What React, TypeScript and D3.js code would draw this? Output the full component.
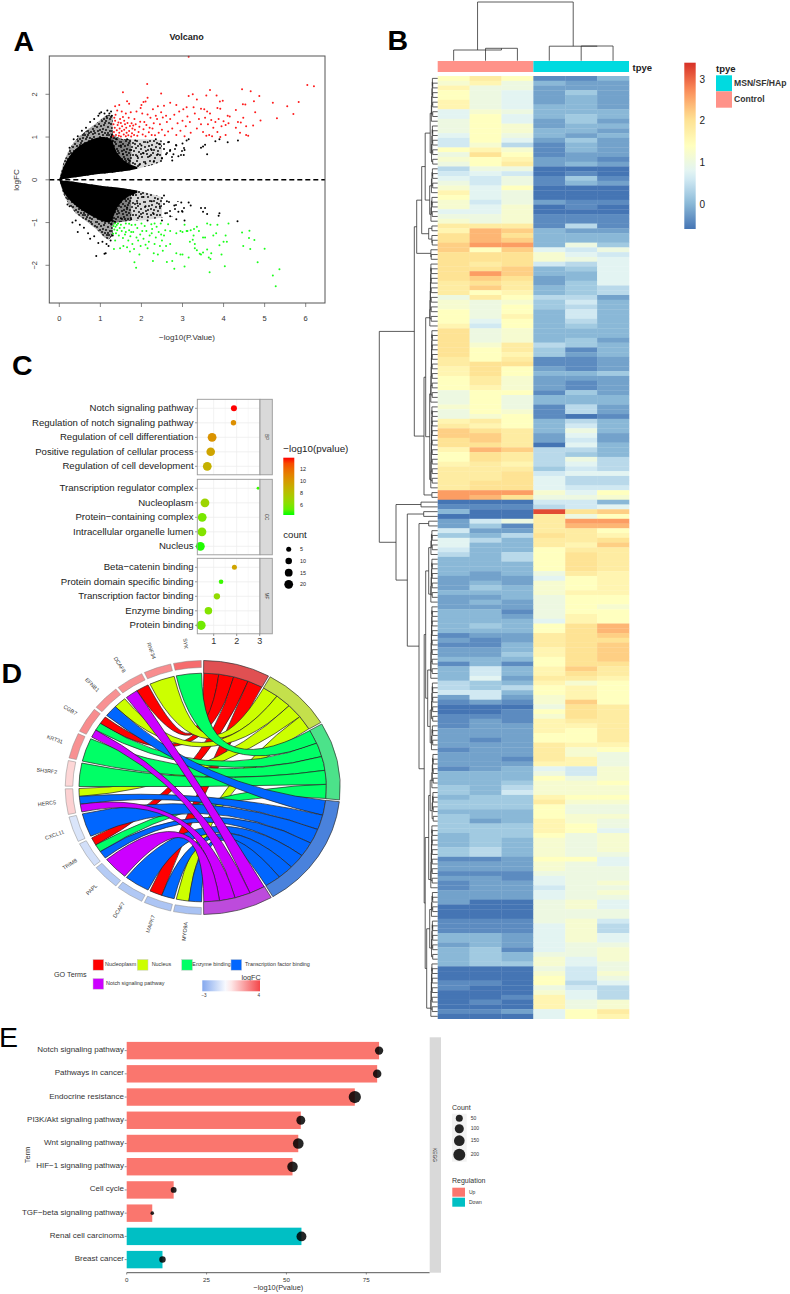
import * as d3 from 'd3';

const FONT = '"Liberation Sans", Arial, sans-serif';

// ---- panel A: volcano. The dense cone is drawn as bands, the loose points are listed
const coneX = [0, 0.05, 0.1, 0.2, 0.3, 0.4, 0.5, 0.6, 0.7, 0.8, 0.9, 1, 1.1, 1.2, 1.3];
const coneUpTop = [0, 0.15, 0.3, 0.48, 0.62, 0.72, 0.8, 0.86, 0.9, 0.95, 0.98, 1, 1, 0.98, 0.9];
const coneUpEdge = [0, 0.2, 0.4, 0.62, 0.8, 0.93, 1.03, 1.1, 1.18, 1.25, 1.32, 1.4, 1.48, 1.52, 1.5];
const coneUpLow = [0, 0.01, 0.02, 0.03, 0.05, 0.06, 0.07, 0.09, 0.1, 0.12, 0.13, 0.14, 0.15, 0.16, 0.17];
const coneDownTop = [0, -0.01, -0.02, -0.03, -0.04, -0.05, -0.07, -0.08, -0.1, -0.11, -0.12, -0.14, -0.15, -0.16, -0.17];
const coneDownLow = [0, -0.15, -0.28, -0.42, -0.52, -0.6, -0.68, -0.74, -0.8, -0.85, -0.9, -0.95, -0.98, -1, -0.95];
const coneDownEdge = [0, -0.18, -0.33, -0.52, -0.66, -0.78, -0.86, -0.93, -1, -1.08, -1.15, -1.25, -1.35, -1.4, -1.3];
const wedgeX = [1.28, 1.4, 1.55, 1.7, 1.9];
const wedgeUpTop = [0.92, 0.64, 0.47, 0.37, 0.3];
const wedgeUpLow = [0.17, 0.18, 0.2, 0.22, 0.26];
const wedgeDownTop = [-0.17, -0.18, -0.2, -0.22, -0.25];
const wedgeDownLow = [-0.95, -0.66, -0.48, -0.38, -0.3];
const denseX = [1.25, 1.4, 1.55, 1.75];
const denseUpTop = [1.1, 1, 0.95, 0.95];
const denseUpLow = [0.16, 0.18, 0.2, 0.23];
const denseDownTop = [-0.16, -0.18, -0.2, -0.23];
const denseDownLow = [-1.1, -1, -0.98, -0.95];
const midX = [1.75, 2, 2.25, 2.5];
const midUpTop = [0.95, 0.95, 0.95, 0.92];
const midUpLow = [0.23, 0.28, 0.34, 0.42];
const midDownTop = [-0.23, -0.27, -0.33, -0.4];
const midDownLow = [-0.95, -0.95, -0.92, -0.88];
const sparseX = [2.5, 2.8, 3.1];
const sparseUpTop = [0.92, 0.9, 0.8];
const sparseUpLow = [0.42, 0.5, 0.6];
const sparseDownTop = [-0.4, -0.48, -0.55];
const sparseDownLow = [-0.88, -0.85, -0.7];
// one tile of stipple for the bands above
const stippleDots: [number, number][] = [
  [1, 2], [13, 15], [7, 9], [20, 4], [4, 17], [16, 8], [10, 1], [23, 13], [2, 11], [18, 18],
  [8, 5], [14, 11], [21, 9], [5, 6], [11, 18], [17, 1], [3, 14], [22, 17], [9, 13], [15, 4],
  [6, 1], [19, 12], [12, 7], [1, 7], [24, 2], [7, 15], [16, 15], [13, 3], [4, 10], [21, 14],
  [10, 10], [18, 6], [2, 19], [14, 19], [8, 19], [23, 6], [6, 12], [12, 13], [20, 19], [16, 11],
  [3, 4], [9, 3], [19, 2], [11, 15], [22, 11], [5, 19], [15, 17], [17, 13],
];

const redPoints: [number, number][] = [
  [6.04, 2.22], [6.2, 2.19], [2.14, 2.24], [1.55, 2.05], [2.48, 2.02], [3.67, 2.1], [4.45, 2.12], [4.66, 2.07], [3.25, 2], [3.15, 1.96],
  [3.83, 1.97], [3.58, 1.97], [4.87, 1.96], [5.83, 1.82], [5.2, 1.8], [5.55, 1.72], [5.7, 1.54], [5.3, 1.44], [4.74, 1.84], [4.47, 1.77],
  [4.53, 1.76], [4.77, 1.58], [4.9, 1.39], [3.98, 1.85], [3.91, 1.83], [3.35, 1.88], [2.15, 1.92], [2.1, 1.83], [2.05, 1.82], [1.65, 1.84],
  [1.7, 1.78], [2.7, 1.8], [2.85, 1.75], [3.1, 1.7], [3.27, 1.7], [3.02, 1.65], [3.45, 1.66], [3.85, 1.68], [3.92, 1.66], [3.53, 1.65],
  [3.6, 1.6], [3.67, 1.55], [4.3, 1.63], [4.1, 1.5], [4.15, 1.48], [3.15, 2.88],
  [1.31, 1.02], [1.33, 1.12], [1.35, 1.22], [1.32, 1.3], [1.36, 1.38], [1.34, 1.45], [1.38, 1.05], [1.4, 1.16], [1.42, 1.28], [1.37, 1.52],
  [1.41, 1.62], [1.36, 1.72], [1.45, 1.03], [1.46, 1.1], [1.47, 1.2], [1.44, 1.34], [1.48, 1.42], [1.46, 1.75], [1.5, 1.01], [1.52, 1.14],
  [1.53, 1.25], [1.5, 1.33], [1.55, 1.47], [1.52, 1.6], [1.57, 1.06], [1.58, 1.17], [1.6, 1.3], [1.58, 1.38], [1.62, 1.02], [1.64, 1.1],
  [1.63, 1.22], [1.66, 1.33], [1.62, 1.55], [1.68, 1.04], [1.7, 1.14], [1.72, 1.26], [1.69, 1.45], [1.74, 1.58], [1.75, 1.01], [1.77, 1.09],
  [1.78, 1.2], [1.76, 1.32], [1.8, 1.27], [1.82, 1.05], [1.84, 1.17], [1.86, 1.3], [1.83, 1.42], [1.88, 1.6], [1.9, 1.03], [1.93, 1.12],
  [1.95, 1.24], [1.98, 1.68], [2, 1.75], [1.97, 1.36], [2.03, 1.06], [2.05, 1.18], [2.07, 1.35], [2.02, 1.55], [2.1, 1.02], [2.12, 1.28],
  [2.15, 1.53], [2.18, 1.11], [2.2, 1.22], [2.22, 1.45], [2.25, 1.05], [2.27, 1.2], [2.28, 1.65], [2.3, 1.32], [2.33, 1.04], [2.35, 1.5],
  [2.38, 1.42], [2.4, 1.72], [2.42, 1.1], [2.45, 1.3], [2.48, 1.58], [2.5, 1.17], [2.52, 1.46], [2.55, 1.73], [2.57, 1.04], [2.6, 1.5],
  [2.62, 1.35], [2.65, 1.13], [2.7, 1.42], [2.75, 1.2], [2.8, 1.52], [2.85, 1.05], [2.88, 1.32], [2.92, 1.6], [2.95, 1.15], [3, 1.38],
  [3.05, 1.02], [3.08, 1.25], [3.12, 1.48], [3.18, 1.35], [3.2, 1.1], [3.3, 1.55], [3.35, 1.2], [3.4, 1.42], [3.45, 1.3], [3.5, 1.12],
  [3.55, 1.45], [3.58, 1.03], [3.62, 1.3], [3.65, 1.05], [3.7, 1.4], [3.72, 1.02], [3.75, 1.22], [3.8, 1.35], [3.85, 1.12], [3.88, 1.42],
  [3.95, 1.25], [4, 1.37], [4.05, 1.28], [4.12, 1.32], [4.3, 1.22], [4.35, 1.35], [4.42, 1.34], [4.4, 1.1], [4.55, 1.25], [4.6, 1.03],
  [4.48, 1.45], [4.72, 1.27], [4.55, 1.05], [3.92, 1], [4.05, 1.05],
];

const greenPoints: [number, number][] = [
  [5.27, -2.49], [5.2, -2.24], [5.36, -2.09], [4.83, -1.93], [5, -1.61], [4.75, -1.41], [4.63, -1.19], [4.62, -1.36], [4.65, -1.62], [4.48, -1.55],
  [4.45, -1.23], [4.12, -1.02], [4.05, -1.3], [4.03, -2.02], [4.08, -1.45], [4, -1.45], [3.9, -1.53], [3.85, -1.05], [3.82, -1.25], [3.7, -1.72],
  [3.68, -1.85], [3.66, -2.16], [3.64, -1.82], [3.6, -1.63], [3.55, -1.35], [3.5, -1.35], [3.45, -1.75], [3.42, -1.73], [3.35, -1.65], [3.3, -1.5],
  [3.27, -1.3], [3.3, -1.6], [3.25, -1.4], [3.15, -1.82], [3.1, -1.2], [3.05, -2.03], [3, -1.75], [2.95, -1.75], [2.85, -1.72], [2.8, -2.08],
  [2.75, -1.9], [2.7, -1.5], [3.6, -1.02], [3.68, -1.05], [3.35, -1.1], [3.4, -1.2], [3.28, -1.15], [3.2, -1.18], [3.12, -1.2], [3.05, -1.05],
  [3, -1.22], [2.95, -1.2], [2.65, -1.04], [2.58, -1.18], [2.55, -1.3], [2.52, -1.66], [2.5, -1.42], [2.47, -1.02], [2.45, -1.55], [2.42, -1.22],
  [2.4, -1.75], [2.37, -1.1], [2.35, -1.35], [2.32, -1.5], [2.3, -1.72], [2.28, -1.9], [2.26, -1.15], [2.24, -1.04], [2.2, -1.3], [2.18, -1.45],
  [2.15, -1.6], [2.12, -1.2], [2.1, -1.52], [2.08, -1.08], [2.05, -1.38], [2, -1.02], [1.97, -1.28], [1.95, -1.75], [1.9, -1.13], [1.88, -1.35],
  [1.87, -2.06], [1.83, -1.93], [1.8, -1.22], [1.78, -1.5], [1.76, -1.06], [1.73, -1.32], [1.7, -1.18], [1.68, -1.42], [1.65, -1.58], [1.62, -1.02],
  [1.6, -1.28], [1.58, -1.12], [1.56, -1.55], [1.55, -1.36], [1.52, -1.2], [1.5, -1.05], [1.48, -1.6], [1.47, -1.13], [1.45, -1.3], [1.43, -1.02],
  [1.41, -1.18], [1.4, -1.06], [1.38, -1.25], [1.37, -1.1], [1.36, -1.42], [1.35, -1.02], [1.34, -1.16], [1.33, -1.62], [1.32, -1.08], [1.31, -1.26],
  [1.75, -1.22], [1.85, -1.05], [1.92, -1.42], [1.72, -1.68], [1.62, -1.22], [1.7, -1.03], [2.02, -1.2], [2.25, -1.25], [2.6, -1.55], [2.7, -1.2],
  [2.85, -1.25], [3.18, -1.45], [3.5, -1.7], [3.75, -1.3], [3.95, -1.75], [2.32, -1.02], [2.48, -1.28], [1.98, -1.55], [1.82, -1.62], [2.62, -1.92],
];

const blackPoints: [number, number][] = [
  [3.6, 0.6], [3.45, 0.75], [3.5, 0.78], [3.55, 0.82], [4.35, 0.92], [3.8, 0.9], [3.9, 0.95], [4.1, 0.88], [3.03, 0.58], [3.05, 0.7],
  [2.9, 0.55], [2.75, 0.45], [2.78, 0.6], [2.7, 0.7], [3.15, 0.95], [3, 0.85], [3.1, 0.92], [2.85, 0.8], [2.65, 0.88], [2.6, 0.6],
  [2.55, 0.72], [2.5, 0.5], [2.45, 0.83], [2.4, 0.6], [2.35, 0.95], [2.3, 0.42], [2.25, 0.7], [2.2, 0.55], [2.15, 0.88], [2.1, 0.38],
  [2.05, 0.62], [2, 0.8], [1.95, 0.35], [1.9, 0.55], [1.85, 0.92], [1.8, 0.3], [1.75, 0.7], [1.7, 0.45], [1.65, 0.95], [1.6, 0.28],
  [1.55, 0.6], [1.5, 0.8], [1.45, 0.4], [1.4, 0.95], [1.26, 1.6], [1.22, 1.55], [1.17, 1.62], [1.1, 1.55], [1.02, 1.58], [0.98, 1.55],
  [0.95, 1.5], [0.85, 1.42], [0.75, 1.35], [0.65, 1.22], [0.55, 1.15], [0.45, 1.02], [0.35, 0.95], [0.25, 0.75], [1.15, 1.48], [1.28, 1.5],
  [4.34, -0.97], [3.9, -0.78], [3.88, -0.84], [3.55, -0.66], [3.45, -0.66], [3.5, -0.75], [3.6, -0.8], [3.15, -0.53], [2.97, -0.53], [3.2, -0.6],
  [2.55, -0.37], [0.9, -1.78], [1.1, -1.73], [1.13, -1.72], [1.2, -1.55], [0.45, -1.22], [0.32, -1], [1.3, -1.3], [2.9, -0.75], [2.8, -0.6],
  [2.7, -0.85], [2.62, -0.5], [2.5, -0.95], [2.45, -0.62], [2.4, -0.45], [2.3, -0.8], [2.25, -0.5], [2.15, -0.95], [2.1, -0.62], [2.05, -0.4],
  [1.95, -0.85], [1.9, -0.55], [1.8, -0.35], [1.75, -0.92], [1.65, -0.65], [1.6, -0.3], [1.5, -0.9], [1.45, -0.45], [1.35, -0.98], [1.15, -1.5],
  [1.05, -1.45], [0.95, -1.48], [0.85, -1.32], [0.7, -1.25], [0.6, -1.12], [0.5, -1.05], [0.4, -0.95], [0.25, -0.62], [0.2, -0.58], [0.75, -1.38],
  [2.58, -0.78], [3.05, -0.95], [3, -0.75], [2.85, -0.92], [1.25, -1.42],
];

// ---- panel B: heatmap. One string per row, six cells, one character a level (0 = -0.6, steps of 0.2)
const heatLevels = '0123456789abcdefghij';
const heatRows = [
  'aca113', '9b8322', 'b88222', 'a87242', 'a87232', 'b87232', 'b87332', '798333', '7a7343', '8a7242',
  '8a9233', '8a9332', '7a8323', '6a7242', '695132', 'ab9132', '8da122', '9ab221', '8ac232', '588000',
  '676010', '768141', '868132', '97a000', 'b78000', 'a78000', '968211', '979010', '779000', '889111',
  '989111', 'ccc151', 'bfe322', 'dfd333', 'dfe333', 'egg384', 'eae768', 'ddd976', 'ddd987',
  'dcd657', 'dde347', 'dge337', 'ded237', 'cdc247', 'cec345', 'cab345', '8ca552', '989463', '98a453',
  'a8a363', 'a8b363', 'a7a353', 'b6a343', 'd89333', 'd89333', 'd89342', 'd9c543', 'dac413', 'dab423',
  'cac112', 'cdd112', 'bda212', 'bda334', 'ac9222', 'ac9212', 'ab9212', '8aa142', '8a8333', '8a8333',
  '9a8152', '8a9152', '89a101', 'bca353', 'cba363', 'edc383', 'eec272', 'dec262', 'ddc073', 'bfe553',
  'adc543', 'adc585', 'bcb575', 'ccc465', 'ccd677', 'ccd755', 'cdd755', 'cdd766', 'ggg97a', 'gfd889',
  '000663', '111567', '300jde', '000c8a', '268cgg', '241cff', '622cca', '435dcb', '753ccd', '733cbe',
  '633acc', '535adc', '335adc', '333adc', '333adc', '3238cb', '2227ab', '2329ab', '2439ab', '3339bb',
  '2238aa', '2328aa', '2228a9', '3318aa', '3328ba', '3337ba', '343adf', '333adf', '122cde', '212cdd',
  '113cde', '223bde', '224bde', '333ade', '131add', '363bec', '363bdc', '372ccb', '543b9a', '545aba',
  '663aba', '2629ba', '1219ea', '0008dc', '001adc', '1119dc', '121bcc', '122bbc', '222bac', '222aac',
  '212aac', '222cbb', '122c9a', '222c98', '221cb8',
  '222bb8', '123769', '333869', '333a89', '33499a', '435999', '436999', '344baa', '444c99', '444a88',
  '333a88', '433a99', '423b98', '444ba8', '444ba7', '344a89', '343989', '343989', '453989', '453988',
  '112aa7', '222987', '222988', '111888', '221788', '122789', '122688', '222789', '222788', '200897',
  '000897', '000888', '000888', '111896', '111795', '111795', '332797', '332797', '232788', '341789',
  '343889', '343979', '344978', '000868', '000969', '000a68', '110a57', '100865', '000975', '001b75',
  '010b89', '000b89', '1127ac', '0007ab',
];

// pheatmap's reversed RdYlBu ramp
const rampStops = [-0.6, 0.065, 0.73, 1.395, 2.06, 2.725, 3.39];
const rampColors = ['#4575b4', '#91bfdb', '#e0f3f8', '#ffffbf', '#fee090', '#fc8d59', '#d73027'];
const heatTicks = [0, 1, 2, 3];

// dendrograms: [height, left, right]; a plain number is that many rows, [height, n] a comb of n rows
type Tree = number | [number, number] | [number, Tree, Tree];
const columnTree: Tree = [58.7, [10.7, 1, [12.4, 1, 1]], [14.5, 1, [14.7, 1, 1]]];
const rowTree: Tree = [58.4,
  [23.4,
    [21,
      [16, [12.5, [7.5, [6.5, 10], [6.5, 9]], [8, [6.5, 6], [7, 6]]], [9, [7, 2], [7, 3]]],
      [8, 3]],
    [13.7, [12, [8, 14], [8, [7, 16], [7, 18]]], [7, 2]]],
  [41.7,
    [16.7, 1, 1],
    [30.4,
      [14, 1, 1],
      [18.7,
        [9, 1, 1],
        [13.5,
          [12, [9, [7, 6], [7, 10]], [10, [7, 16], [7.5, [6.5, 9], [6.5, 6]]]],
          [12.5, [9, [7.5, [6, 8], [6, 7]], [7, 14]], [11, [8, [6.5, 6], [6.5, 9]], [7, 12]]]]]]],
];

// ---- panel C: dot plot
const dotGroups = ['BP', 'CC', 'MF'];
const dotTerms = [
  ['Notch signaling pathway', 'Regulation of notch signaling pathway', 'Regulation of cell differentiation', 'Positive regulation of cellular process', 'Regulation of cell development'],
  ['Transcription regulator complex', 'Nucleoplasm', 'Protein\u2212containing complex', 'Intracellular organelle lumen', 'Nucleus'],
  ['Beta\u2212catenin binding', 'Protein domain specific binding', 'Transcription factor binding', 'Enzyme binding', 'Protein binding'],
];
const dotRatio = [[1.88, 1.86, 0.93, 0.87, 0.72], [2.93, 0.62, 0.5, 0.49, 0.42], [1.9, 1.32, 1.14, 0.77, 0.45]];
const dotPvalue = [[13.9, 10.5, 10.3, 9.5, 8.8], [4.6, 6.9, 5.7, 6, 4.4], [9.5, 4.6, 6.5, 6, 5.5]];
const dotCount = [[8, 6, 20, 19, 20], [1, 20, 20, 20, 20], [5, 4, 9, 14, 22]];
const dotTicks = [1, 2, 3];
const pvalueTicks = [6, 8, 10, 12];
const countTicks = [5, 10, 15, 20];

// ---- panel D: GO chord. Genes clockwise from the bottom, each with the terms it links to
const goTerms = ['Nucleoplasm', 'Nucleus', 'Enzyme binding', 'Transcription factor binding', 'Notch signaling pathway'];
const goTermColors = ['#ff0000', '#ccff00', '#00ff66', '#0066ff', '#cc00ff'];
const goRingColors = ['#e05052', '#c4e04c', '#4ce28a', '#4a82dc', '#bd4bdc'];
const goTermSpan = [0, 29, 59.6, 96, 149.7, 180];
const goGenes = ['MYO9A', 'MAPK7', 'DCAF7', 'PAPL', 'TRIM8', 'CXCL11', 'HERC5', 'SH3RF2', 'KRT31', 'CGB7', 'EFNB1', 'DCAF8', 'RNF34', 'SYK'];
const goLogFC = [-2.1, -2, -1.9, -1.8, -1.1, -0.9, 1, 0.9, 2.4, 2.5, 2.4, 2.4, 2.5, 3.2];
const goLinks = [[3, 1], [3, 0], [3], [4], [3, 2, 0], [3], [4, 3, 1], [2], [2], [4, 2, 0], [3, 1], [4, 0], [1], [2]];

// ---- panel E: KEGG bars
const keggTerms = ['Notch signaling pathway', 'Pathways in cancer', 'Endocrine resistance', 'PI3K/Akt signaling pathway', 'Wnt signaling pathway', 'HIF\u22121 signaling pathway', 'Cell cycle', 'TGF\u2212beta signaling pathway', 'Renal cell carcinoma', 'Breast cancer'];
const keggValues = [79, 78.4, 71.4, 54.5, 53.7, 51.9, 14.7, 8, 54.7, 11.2];
const keggCounts = [80, 85, 210, 95, 150, 145, 30, 5, 125, 40];
const keggRegulation = ['Up', 'Up', 'Up', 'Up', 'Up', 'Up', 'Up', 'Up', 'Down', 'Down'];
const keggTicks = [0, 25, 50, 75];
const keggCountTicks = [50, 100, 150, 200];
const regulationColors: Record<string, string> = { Up: '#fa766e', Down: '#00bfc4' };

function Volcano() {
  const x = d3.scaleLinear().domain([0, 6]).range([59.3, 305.7]);
  const y = d3.scaleLinear().domain([-2, 2]).range([265.3, 94.3]);
  const band = (xs: number[], top: number[], low: number[]) =>
    d3.area<number>().x(d => x(d)).y0((_, i) => y(low[i])).y1((_, i) => y(top[i]))(xs) as string;
  const dots = (pts: [number, number][], color: string) =>
    pts.map((p, i) => <circle key={i} cx={x(p[0])} cy={y(p[1])} r={1} fill={color} />);
  const tile = (id: string, n: number) => (
    <pattern id={id} width={24} height={20} patternUnits="userSpaceOnUse">
      {stippleDots.slice(0, n).map((d, i) => <circle key={i} cx={d[0]} cy={d[1]} r={0.95} fill="#000" />)}
    </pattern>
  );
  return (
    <g fontFamily={FONT} fill="#333">
      <defs>
        {tile('stipDense', 48)}
        {tile('stipMid', 32)}
        {tile('stipSparse', 12)}
      </defs>
      <path d={band(coneX, coneUpEdge, coneUpLow)} fill="#000" fillOpacity={0.35} />
      <path d={band(coneX, coneUpEdge, coneUpLow)} fill="url(#stipDense)" />
      <path d={band(coneX, coneDownTop, coneDownEdge)} fill="#000" fillOpacity={0.35} />
      <path d={band(coneX, coneDownTop, coneDownEdge)} fill="url(#stipDense)" />
      <path d={band(denseX, denseUpTop, denseUpLow)} fill="#000" fillOpacity={0.5} />
      <path d={band(denseX, denseUpTop, denseUpLow)} fill="url(#stipDense)" />
      <path d={band(denseX, denseDownTop, denseDownLow)} fill="#000" fillOpacity={0.5} />
      <path d={band(denseX, denseDownTop, denseDownLow)} fill="url(#stipDense)" />
      <path d={band(midX, midUpTop, midUpLow)} fill="#000" fillOpacity={0.15} />
      <path d={band(midX, midUpTop, midUpLow)} fill="url(#stipMid)" />
      <path d={band(midX, midDownTop, midDownLow)} fill="#000" fillOpacity={0.15} />
      <path d={band(midX, midDownTop, midDownLow)} fill="url(#stipMid)" />
      <path d={band(sparseX, sparseUpTop, sparseUpLow)} fill="url(#stipSparse)" />
      <path d={band(sparseX, sparseDownTop, sparseDownLow)} fill="url(#stipSparse)" />
      <path d={band(wedgeX, wedgeUpTop, wedgeUpLow)} fill="#000" />
      <path d={band(wedgeX, wedgeDownTop, wedgeDownLow)} fill="#000" />
      <path d={band(coneX, coneUpTop, coneUpLow)} fill="#000" />
      <path d={band(coneX, coneDownTop, coneDownLow)} fill="#000" />
      {dots(blackPoints, '#000')}
      {dots(redPoints, '#ff1a1a')}
      {dots(greenPoints, '#1aff1a')}
      <line x1={49.3} x2={325} y1={y(0)} y2={y(0)} stroke="#000" strokeWidth={1.4} strokeDasharray="5 3" />
      <rect x={49.3} y={56} width={275.7} height={247} fill="none" stroke="#555" strokeWidth={1} />
      {d3.range(0, 7).map(t => (
        <g key={t}>
          <line x1={x(t)} x2={x(t)} y1={303} y2={307} stroke="#555" strokeWidth={0.7} />
          <text x={x(t)} y={320.5} fontSize={7.5} textAnchor="middle">{t}</text>
        </g>
      ))}
      {[-2, -1, 0, 1, 2].map(t => (
        <g key={t}>
          <line x1={45.5} x2={49.3} y1={y(t)} y2={y(t)} stroke="#555" strokeWidth={0.7} />
          <text transform={`translate(37,${y(t)}) rotate(-90)`} fontSize={7.5} textAnchor="middle">{t < 0 ? `\u2212${-t}` : t}</text>
        </g>
      ))}
      <text x={186.7} y={40} fontSize={9} fontWeight="bold" textAnchor="middle" fill="#222">Volcano</text>
      <text x={187} y={340} fontSize={8} textAnchor="middle">{'\u2212log10(P.Value)'}</text>
      <text transform="translate(19,180) rotate(-90)" fontSize={8} textAnchor="middle">logFC</text>
    </g>
  );
}

// flatten a dendrogram into segments of [leaf position, height]
function treeSegments(tree: Tree) {
  const segs: [number, number, number, number][] = [];
  let cursor = 0;
  const join = (a: { p: number; h: number }, b: { p: number; h: number }, h: number) => {
    segs.push([a.p, a.h, a.p, h], [a.p, h, b.p, h], [b.p, b.h, b.p, h]);
    return { p: (a.p + b.p) / 2, h };
  };
  const leaf = () => ({ p: cursor++ + 0.5, h: 0 });
  const comb = (n: number, top: number) => {
    if (n === 1) return leaf();
    let node = leaf();
    const pair = top - 1.5;
    for (let i = 1; i < n; i += 2) {
      const next = i + 1 < n ? join(leaf(), leaf(), pair) : leaf();
      node = i === 1 && node.h === 0 ? join(node, next, pair + 0.3) : join(node, next, pair + ((top - pair) * i) / n);
    }
    return node;
  };
  const walk = (t: Tree): { p: number; h: number } => {
    if (typeof t === 'number') return t === 1 ? leaf() : comb(t, 7);
    if (t.length === 2) return comb(t[1], t[0]);
    const a = walk(t[1]);
    const b = walk(t[2]);
    return join(a, b, t[0]);
  };
  walk(tree);
  return segs;
}

function Heatmap() {
  const x = d3.scaleBand<number>().domain(d3.range(6)).range([437.7, 629]);
  const y = d3.scaleBand<number>().domain(d3.range(heatRows.length)).range([76, 1018.7]);
  const color = d3.scaleLinear<string>().domain(rampStops).range(rampColors);
  const barY = d3.scaleLinear().domain([0, 3]).range([204, 79]);
  const colLeaf = d3.scaleLinear().domain([0, 6]).range([437.7, 629]);
  const colH = d3.scaleLinear().domain([0, 58.7]).range([60.7, 2]);
  const rowLeaf = d3.scaleLinear().domain([0, heatRows.length]).range([76, 1018.7]);
  const rowH = d3.scaleLinear().domain([0, 58.4]).range([437.7, 379.3]);
  const barStops = d3.range(0, 1.01, 0.05);
  return (
    <g fontFamily={FONT}>
      <defs>
        <linearGradient id="heatbar" x1="0" x2="0" y1="1" y2="0">
          {barStops.map(s => <stop key={s} offset={s} stopColor={color(-0.6 + s * 3.99)} />)}
        </linearGradient>
      </defs>
      {heatRows.map((row, r) =>
        row.split('').map((ch, c) => (
          <rect key={`${r}-${c}`} x={x(c)} y={y(r)} width={x.bandwidth() + 0.3} height={y.bandwidth() + 0.3}
            fill={color(-0.6 + heatLevels.indexOf(ch) * 0.2)} />
        )),
      )}
      <rect x={437.7} y={61} width={95.7} height={11} fill="#ff9289" />
      <rect x={533.4} y={61} width={95.6} height={11} fill="#00dae0" />
      <g stroke="#333" strokeWidth={0.8} fill="none">
        {treeSegments(columnTree).map((s, i) => (
          <line key={i} x1={colLeaf(s[0])} y1={colH(s[1])} x2={colLeaf(s[2])} y2={colH(s[3])} />
        ))}
        {treeSegments(rowTree).map((s, i) => (
          <line key={i} x1={rowH(s[1])} y1={rowLeaf(s[0])} x2={rowH(s[3])} y2={rowLeaf(s[2])} />
        ))}
      </g>
      <text x={632.5} y={71} fontSize={9.5} fontWeight="bold" fill="#222">tpye</text>
      <rect x={684.3} y={62.7} width={11.4} height={166.3} fill="url(#heatbar)" />
      {heatTicks.map(t => (
        <text key={t} x={699.5} y={barY(t) + 3.8} fontSize={10} fill="#222">{t}</text>
      ))}
      <text x={716} y={71.5} fontSize={9.5} fontWeight="bold" fill="#222">tpye</text>
      <rect x={716} y={75.3} width={16} height={16} fill="#00dae0" />
      <rect x={716} y={91.3} width={16} height={16.4} fill="#ff9289" />
      <text x={734} y={86.3} fontSize={8.6} fontWeight="bold" fill="#333">MSN/SF/HAp</text>
      <text x={734} y={102.3} fontSize={8.6} fontWeight="bold" fill="#333">Control</text>
    </g>
  );
}

function DotPlot() {
  const x = d3.scaleLinear().domain([1, 3]).range([213.7, 259.7]);
  const panels = [399.3, 479.3, 558.3];
  const panelH = 75.5;
  const color = d3.scaleLinear<string>().domain([4.3, 13.9]).range(['#00ff00', '#ff0000']).interpolate(d3.interpolateLab);
  const size = d3.scaleSqrt().domain([0, 20]).range([0.6, 4.4]);
  const legendY = d3.scaleLinear().domain([6, 12]).range([505, 468.7]);
  return (
    <g fontFamily={FONT}>
      <defs>
        <linearGradient id="pbar" x1="0" x2="0" y1="1" y2="0">
          {d3.range(0, 1.01, 0.1).map(s => <stop key={s} offset={s} stopColor={color(4.3 + s * 9.6)} />)}
        </linearGradient>
      </defs>
      {panels.map((top, g) => {
        const rows = d3.scalePoint<string>().domain(dotTerms[g]).range([top + 9, top + 67]);
        return (
          <g key={g}>
            <rect x={197.3} y={top} width={62.7} height={panelH} fill="#fff" />
            {dotTicks.concat([1.5, 2.5]).map(t => (
              <line key={t} x1={x(t)} x2={x(t)} y1={top} y2={top + panelH} stroke="#eee" strokeWidth={t % 1 ? 0.4 : 0.8} />
            ))}
            {dotTerms[g].map((term, i) => (
              <g key={term}>
                <line x1={197.3} x2={260} y1={rows(term)} y2={rows(term)} stroke="#eee" strokeWidth={0.8} />
                <line x1={195} x2={197.3} y1={rows(term)} y2={rows(term)} stroke="#555" strokeWidth={0.6} />
                <text x={193.6} y={rows(term)! + 3.1} fontSize={9.6} textAnchor="end" fill="#222">{term}</text>
                <circle cx={x(dotRatio[g][i])} cy={rows(term)} r={size(dotCount[g][i])} fill={color(dotPvalue[g][i])} />
              </g>
            ))}
            <rect x={197.3} y={top} width={62.7} height={panelH} fill="none" stroke="#999" strokeWidth={0.9} />
            <rect x={260} y={top} width={12.3} height={panelH} fill="#d9d9d9" stroke="#999" strokeWidth={0.9} />
            <text transform={`translate(264.5,${top + panelH / 2}) rotate(90)`} fontSize={4.6} textAnchor="middle" fill="#333">{dotGroups[g]}</text>
          </g>
        );
      })}
      {dotTicks.map(t => (
        <g key={t}>
          <line x1={x(t)} x2={x(t)} y1={633.8} y2={636} stroke="#555" strokeWidth={0.6} />
          <text x={x(t)} y={644.2} fontSize={9} textAnchor="middle" fill="#333">{t}</text>
        </g>
      ))}
      <text x={283.3} y={452} fontSize={9.8} fill="#222">{'\u2212log10(pvalue)'}</text>
      <rect x={283.3} y={457.7} width={11} height={57.3} fill="url(#pbar)" />
      {pvalueTicks.map(t => (
        <text key={t} x={300} y={legendY(t) + 1.9} fontSize={5.4} fill="#222">{t}</text>
      ))}
      <text x={283.3} y={537.5} fontSize={9.6} fill="#222">count</text>
      {countTicks.map((t, i) => (
        <g key={t}>
          <circle cx={288.7} cy={549.3 + i * 11.67} r={size(t)} fill="#000" />
          <text x={300} y={551.2 + i * 11.67} fontSize={5.4} fill="#222">{t}</text>
        </g>
      ))}
    </g>
  );
}

function Chord() {
  const deg = Math.PI / 180;
  const R = 100;
  const ribbonR = 90;
  const cx = 202.7;
  const cy = 787.5;
  const sx = 137.5 / R;
  const sy = 127 / R;
  const geneStep = 180 / goGenes.length;
  const logFcColor = d3.scaleLinear<string>().domain([-3, 0, 4]).range(['#84a8ee', '#ffffff', '#f4474a']);
  const arc = d3.arc<{ a0: number; a1: number; r0: number; r1: number }>()
    .startAngle(d => d.a0 * deg).endAngle(d => d.a1 * deg).innerRadius(d => d.r0).outerRadius(d => d.r1);
  const ribbon = d3.ribbon<any, any>().radius(ribbonR);

  // angular slot on the gene side for each link
  const allLinks = goGenes.flatMap((_, g) => {
    const a0 = 180 + g * geneStep + 0.5;
    const w = (geneStep - 1) / goLinks[g].length;
    return goLinks[g].map((term, k) => ({ gene: g, term, a0: a0 + k * w, a1: a0 + (k + 1) * w }));
  });
  const ribbonPaths = goTerms.map((_, t) => {
    const own = allLinks.filter(l => l.term === t).sort((p, q) => q.gene - p.gene);
    const span0 = goTermSpan[t] + 0.5;
    const w = (goTermSpan[t + 1] - goTermSpan[t] - 1) / own.length;
    return own.map((l, k) => ribbon({
      source: { startAngle: (span0 + k * w) * deg, endAngle: (span0 + (k + 1) * w) * deg },
      target: { startAngle: l.a0 * deg, endAngle: l.a1 * deg },
    } as any) as unknown as string);
  });

  const swatches: [number, number, number, number][] = [
    [0, 93, 959.5, 105], [1, 137.3, 959.5, 151.7], [2, 181.7, 959.5, 192.3], [3, 231, 959.5, 245], [4, 93, 978.5, 106],
  ];
  return (
    <g fontFamily={FONT}>
      <defs>
        <linearGradient id="fcbar">
          {d3.range(0, 1.01, 0.1).map(s => <stop key={s} offset={s} stopColor={logFcColor(-3 + s * 7)} />)}
        </linearGradient>
      </defs>
      <g transform={`translate(${cx},${cy}) scale(${sx},${sy})`}>
        {ribbonPaths.map((paths, t) =>
          paths.map((d, k) => (
            <path key={`${t}-${k}`} d={d} fill={goTermColors[t]} stroke="#222" strokeWidth={0.7} vectorEffect="non-scaling-stroke" />
          )),
        )}
        {goTerms.map((_, t) => (
          <path key={t} d={arc({ a0: goTermSpan[t] + 0.4, a1: goTermSpan[t + 1] - 0.4, r0: ribbonR, r1: R })!}
            fill={goRingColors[t]} stroke="#333" strokeWidth={0.7} vectorEffect="non-scaling-stroke" />
        ))}
        {goGenes.map((g, i) => (
          <path key={g} d={arc({ a0: 180 + i * geneStep + 0.6, a1: 180 + (i + 1) * geneStep - 0.6, r0: 94.5, r1: R })!}
            fill={logFcColor(goLogFC[i])} stroke="#888" strokeWidth={0.5} vectorEffect="non-scaling-stroke" />
        ))}
      </g>
      {goGenes.map((g, i) => {
        const a = 180 + (i + 0.5) * geneStep;
        const px = cx + Math.sin(a * deg) * sx * 114;
        const py = cy - Math.cos(a * deg) * sy * 114;
        return (
          <text key={g} transform={`translate(${px},${py}) rotate(${a - 270})`} fontSize={5.4} textAnchor="middle" dominantBaseline="middle" fill="#333">{g}</text>
        );
      })}
      <text x={54} y={977} fontSize={7.2} fill="#333">GO Terms</text>
      {swatches.map(([t, sxp, syp, tx]) => (
        <g key={t}>
          <rect x={sxp} y={syp} width={10.7} height={10.7} fill={goTermColors[t]} stroke="#ccc" strokeWidth={0.5} />
          <text x={tx} y={syp + 6.9} fontSize={5.4} fill="#333">{goTerms[t]}</text>
        </g>
      ))}
      <text x={251} y={979.5} fontSize={7.2} textAnchor="middle" fill="#333">logFC</text>
      <rect x={202.3} y={980.3} width={57.7} height={11} fill="url(#fcbar)" />
      <text x={204} y={996.5} fontSize={4.6} textAnchor="middle" fill="#333">{'\u22123'}</text>
      <text x={258.7} y={996.5} fontSize={4.6} textAnchor="middle" fill="#333">4</text>
    </g>
  );
}

function KeggBars() {
  const x = d3.scaleLinear().domain([0, 75]).range([126.7, 366.3]);
  const y = d3.scaleBand<string>().domain(keggTerms).range([1039.1, 1271.1]).paddingInner(0.25).paddingOuter(0.12);
  const size = d3.scaleSqrt().domain([0, 200]).range([1, 6]);
  const legendY = [1118.3, 1128.7, 1140.7, 1154.7];
  return (
    <g fontFamily={FONT}>
      {keggTerms.map((term, i) => {
        const cy = y(term)! + y.bandwidth() / 2;
        return (
          <g key={term}>
            <rect x={x(0)} y={y(term)} width={x(keggValues[i]) - x(0)} height={y.bandwidth()} fill={regulationColors[keggRegulation[i]]} />
            <line x1={124.7} x2={126.7} y1={cy} y2={cy} stroke="#444" strokeWidth={0.6} />
            <text x={124} y={cy + 1.5} fontSize={8} textAnchor="end" fill="#333">{term}</text>
          </g>
        );
      })}
      {keggTerms.map((term, i) => (
        <circle key={term} cx={x(keggValues[i])} cy={y(term)! + y.bandwidth() / 2} r={size(keggCounts[i])} fill="#000" fillOpacity={0.85} />
      ))}
      <line x1={126.7} x2={429.7} y1={1272.7} y2={1272.7} stroke="#444" strokeWidth={0.9} />
      <rect x={429.7} y={1037.3} width={11.3} height={235.4} fill="#d9d9d9" />
      <text transform="translate(433.3,1155) rotate(90)" fontSize={4.8} textAnchor="middle" fill="#333">KEGG</text>
      {keggTicks.map(t => (
        <g key={t}>
          <line x1={x(t)} x2={x(t)} y1={1272.7} y2={1274.5} stroke="#444" strokeWidth={0.6} />
          <text x={x(t)} y={1281.5} fontSize={6.2} textAnchor="middle" fill="#333">{t}</text>
        </g>
      ))}
      <text x={278.3} y={1290} fontSize={7.4} textAnchor="middle" fill="#333">{'\u2212log10(Pvalue)'}</text>
      <text transform="translate(30,1155) rotate(-90)" fontSize={7.4} textAnchor="middle" fill="#333">Term</text>
      <text x={452} y={1109.5} fontSize={7} fill="#333">Count</text>
      <rect x={452} y={1113.7} width={14.7} height={48} fill="#f2f2f2" />
      {keggCountTicks.map((t, i) => (
        <g key={t}>
          <circle cx={459.3} cy={legendY[i]} r={size(t)} fill="#000" fillOpacity={0.85} />
          <text x={470.7} y={legendY[i] + 1.7} fontSize={5} fill="#333">{t}</text>
        </g>
      ))}
      <text x={452} y={1183} fontSize={7} fill="#333">Regulation</text>
      {['Up', 'Down'].map((r, i) => (
        <g key={r}>
          <rect x={452.3} y={1187.7 + i * 10} width={12.7} height={9} fill={regulationColors[r]} />
          <text x={469} y={1194 + i * 10} fontSize={5} fill="#333">{r}</text>
        </g>
      ))}
    </g>
  );
}

const panelLetters: [string, number, number, string][] = [
  ['A', 13.5, 50.5, 'bold'], ['B', 387.5, 50, 'bold'], ['C', 12, 375, 'bold'], ['D', 1.5, 683, 'bold'], ['E', -1, 1047, 'normal'],
];

export default function App() {
  return (
    <svg width={790} height={1294} style={{ position: 'absolute', left: 0, top: 0, background: '#fff' }}>
      <Volcano />
      <Heatmap />
      <DotPlot />
      <Chord />
      <KeggBars />
      {panelLetters.map(([l, x, y, w]) => (
        <text key={l} x={x} y={y} fontFamily={FONT} fontSize={28.5} fontWeight={w} fill="#000">{l}</text>
      ))}
    </svg>
  );
}
